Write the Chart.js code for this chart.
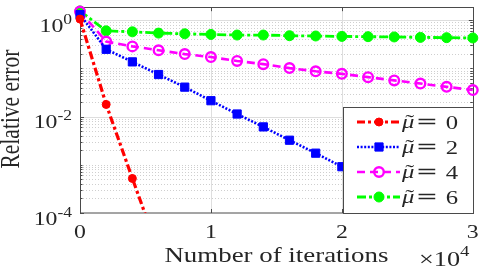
<!DOCTYPE html>
<html>
<head>
<meta charset="utf-8">
<script src="https://cdn.jsdelivr.net/npm/chart.js@4/dist/chart.umd.min.js"></script>
<style>
html,body{margin:0;padding:0;background:#fff;}
#c{display:block;}
</style>
</head>
<body>
<canvas id="c" width="480" height="268" style="width:480px;height:268px"></canvas>
<script>
// ---- data ----
const iterations = [0,2000,4000,6000,8000,10000,12000,14000,16000,18000,20000,22000,24000,26000,28000,30000];
const mu0 = [1.05, 0.0178, 5.2e-4, 1.6e-5];
const mu2 = [1.3, 0.248, 0.136, 0.0743, 0.0407, 0.0213, 0.01128, 0.0061, 0.00323, 0.00174, 9.12e-4, 4.8e-4, 2.5e-4, 1.3e-4, 6.9e-5, 3.6e-5];
const mu4 = [1.5, 0.359, 0.285, 0.237, 0.197, 0.171, 0.142, 0.122, 0.101, 0.0867, 0.0768, 0.0656, 0.0562, 0.0483, 0.0413, 0.0354];
const mu6 = [1.55, 0.598, 0.571, 0.537, 0.52, 0.504, 0.49, 0.49, 0.474, 0.468, 0.459, 0.453, 0.447, 0.438, 0.432, 0.426];
const muLabels = ['0', '2', '4', '6'];
const xTickValues = [0, 10000, 20000, 30000];
const xTickLabels = ['0', '1', '2', '3'];
const yTickExps = [0, -2, -4];
const xTitle = 'Number of iterations';
const yTitle = 'Relative error';

function pts(vals){ return vals.map((v,i)=>({x: iterations[i], y: v})); }

const TXT = '#262626';
const SX = 1.25;

function sText(ctx, str, x, y, font, align, sx){
  ctx.save();
  ctx.font = font;
  ctx.fillStyle = TXT;
  ctx.textAlign = align || 'left';
  ctx.textBaseline = 'alphabetic';
  ctx.translate(x, y);
  ctx.scale(sx || SX, 1);
  ctx.fillText(str, 0, 0);
  ctx.restore();
}
function sWidth(ctx, str, font, sx){
  ctx.save(); ctx.font = font; const w = ctx.measureText(str).width; ctx.restore();
  return w * (sx || SX);
}

const styles = [
  {color:'#ff0000', dash:[8,3,3,3], width:3.2, shape:'circle', r:4, fill:'#ff0000'},
  {color:'#0000ff', dash:[2,1.6], width:2.6, shape:'rect', r:5.8, fill:'#0000ff'},
  {color:'#ff00ff', dash:[8,5], width:2.6, shape:'circle', r:4.8, fill:'rgba(0,0,0,0)'},
  {color:'#00ff00', dash:[9,3,3,3], width:2.8, shape:'circle', r:5, fill:'#00ff00'}
];
const series = [mu0, mu2, mu4, mu6];

const datasets = series.map((s,i)=>({
  label: 'mu=' + muLabels[i],
  data: pts(s),
  borderColor: styles[i].color,
  borderWidth: styles[i].width,
  borderDash: styles[i].dash,
  pointStyle: styles[i].shape,
  pointRadius: styles[i].r,
  pointBackgroundColor: styles[i].fill,
  pointBorderColor: styles[i].color,
  pointBorderWidth: i===2 ? 2.4 : 1,
  fill: false,
  tension: 0,
  clip: {left: 10, top: 10, right: 10, bottom: 0}
}));

const decor = {
  id: 'decor',
  beforeDatasetsDraw(chart){
    const ctx = chart.ctx, a = chart.chartArea;
    const xs = chart.scales.x, ys = chart.scales.y;
    ctx.save();
    ctx.lineWidth = 1;
    for (let e = -4; e <= 0; e++){
      for (let m = 1; m <= 9; m++){
        const v = m * Math.pow(10, e);
        if (v < ys.min - 1e-12 || v > ys.max) continue;
        const isMajor = (m === 1 && e % 2 === 0);
        const y = Math.round(ys.getPixelForValue(v)) + 0.5;
        if (y <= a.top + 1 || y >= a.bottom - 0.5) continue;
        ctx.beginPath();
        if (isMajor){ ctx.setLineDash([]); ctx.strokeStyle = '#dedede'; }
        else { ctx.setLineDash([1,2]); ctx.strokeStyle = '#cfcfcf'; }
        ctx.moveTo(a.left, y); ctx.lineTo(a.right, y); ctx.stroke();
      }
    }
    ctx.setLineDash([]);
    ctx.strokeStyle = '#dedede';
    xTickValues.forEach(v=>{
      const x = Math.round(xs.getPixelForValue(v)) + 0.5;
      if (x <= a.left + 1 || x >= a.right - 1) return;
      ctx.beginPath(); ctx.moveTo(x, a.top); ctx.lineTo(x, a.bottom); ctx.stroke();
    });
    ctx.strokeStyle = '#4a4a4a';
    ctx.lineWidth = 1;
    ctx.strokeRect(Math.round(a.left)+0.5, Math.round(a.top)+0.5, Math.round(a.right - a.left), Math.round(a.bottom - a.top)-0.5);
    ctx.beginPath();
    for (let e = -4; e <= 0; e++){
      for (let m = 1; m <= 9; m++){
        const v = m * Math.pow(10, e);
        if (v < ys.min - 1e-12 || v > ys.max) continue;
        const y = Math.round(ys.getPixelForValue(v)) + 0.5;
        const len = (m === 1 && e % 2 === 0) ? 4 : 2.5;
        ctx.moveTo(a.left, y); ctx.lineTo(a.left + len, y);
        ctx.moveTo(a.right, y); ctx.lineTo(a.right - len, y);
      }
    }
    xTickValues.forEach(v=>{
      const x = Math.round(xs.getPixelForValue(v)) + 0.5;
      ctx.moveTo(x, a.bottom); ctx.lineTo(x, a.bottom - 4);
      ctx.moveTo(x, a.top); ctx.lineTo(x, a.top + 4);
    });
    ctx.stroke();
    ctx.restore();
  },
  afterDraw(chart){
    const ctx = chart.ctx, a = chart.chartArea;
    const xs = chart.scales.x, ys = chart.scales.y;
    const F = '"Liberation Serif", "Times New Roman", serif';
    yTickExps.forEach(e=>{
      const y = ys.getPixelForValue(Math.pow(10, e));
      const sup = e === 0 ? '0' : '-' + String(-e);
      const wSup = sWidth(ctx, sup, '14px ' + F);
      const w10 = sWidth(ctx, '10', '19px ' + F);
      const right = 72;
      sText(ctx, '10', right - wSup - w10, y + 11.5, '19px ' + F, 'left');
      sText(ctx, sup, right - wSup, y + 3.5, '14px ' + F, 'left');
    });
    xTickValues.forEach((v,i)=>{
      const x = xs.getPixelForValue(v);
      sText(ctx, xTickLabels[i], x, 238, '19px ' + F, 'center');
    });
    sText(ctx, xTitle, (a.left + a.right)/2, 262, '21px ' + F, 'center', 1.28);
    sText(ctx, '\u00d710', 419, 266, '21px ' + F, 'left');
    sText(ctx, '4', 419 + sWidth(ctx, '\u00d710', '21px ' + F), 256, '15px ' + F, 'left');
    ctx.save();
    ctx.font = '21.5px ' + F;
    ctx.fillStyle = TXT;
    ctx.textAlign = 'center';
    ctx.textBaseline = 'alphabetic';
    ctx.translate(19, (a.top + a.bottom)/2 - 1);
    ctx.scale(SX, 1);
    ctx.rotate(-Math.PI/2);
    ctx.fillText(yTitle, 0, 0);
    ctx.restore();

    // legend
    const L = 343.5, T = 107.5, R = Math.round(a.right) + 0.5, B = Math.round(a.bottom) + 0.5;
    ctx.save();
    ctx.fillStyle = '#ffffff';
    ctx.fillRect(L, T, R - L, B - T);
    ctx.strokeStyle = '#4a4a4a';
    ctx.lineWidth = 1;
    ctx.strokeRect(L, T, R - L, B - T);
    const rows = [122, 147, 172, 197];
    styles.forEach((s,i)=>{
      const y = rows[i];
      ctx.save();
      ctx.strokeStyle = s.color;
      ctx.lineWidth = s.width;
      ctx.setLineDash(s.dash);
      ctx.beginPath(); ctx.moveTo(357, y); ctx.lineTo(400, y); ctx.stroke();
      ctx.setLineDash([]);
      ctx.beginPath();
      if (s.shape === 'rect'){
        const h = s.r * Math.SQRT1_2;
        ctx.rect(379 - h, y - h, 2*h, 2*h);
      } else {
        ctx.arc(379, y, s.r, 0, Math.PI*2);
      }
      ctx.fillStyle = s.fill;
      ctx.fill();
      ctx.lineWidth = i===2 ? 2.4 : 1;
      ctx.strokeStyle = s.color;
      ctx.stroke();
      ctx.restore();
      const muFont = 'italic 19px ' + F;
      const wMu = sWidth(ctx, '\u03bc', muFont, 1.3);
      sText(ctx, '\u03bc', 402, y + 5.5, muFont, 'left', 1.3);
      sText(ctx, '\u02dc', 402 + wMu/2 + 1.5, y + 6, '19px ' + F, 'center', 1.4);
      sText(ctx, '=', 427, y + 6, '19px "DejaVu Serif", serif', 'center', 1.4);
      sText(ctx, muLabels[i], 452, y + 6.5, '19px ' + F, 'center', 1.3);
    });
    ctx.restore();
  }
};

new Chart(document.getElementById('c'), {
  type: 'line',
  data: { datasets },
  options: {
    responsive: false,
    animation: false,
    devicePixelRatio: 1,
    events: [],
    layout: { padding: { top: 1, right: 6, left: 0, bottom: 0 } },
    plugins: { legend: { display: false }, tooltip: { enabled: false }, title: { display: false } },
    scales: {
      x: {
        type: 'linear', min: 0, max: 30000,
        grid: { display: false }, border: { display: false },
        ticks: { display: false },
        afterFit(s){ s.height = 55; }
      },
      y: {
        type: 'logarithmic', min: 1e-4, max: 1.85,
        grid: { display: false }, border: { display: false },
        ticks: { display: false },
        afterFit(s){ s.width = 80; }
      }
    }
  },
  plugins: [decor]
});
</script>
</body>
</html>
